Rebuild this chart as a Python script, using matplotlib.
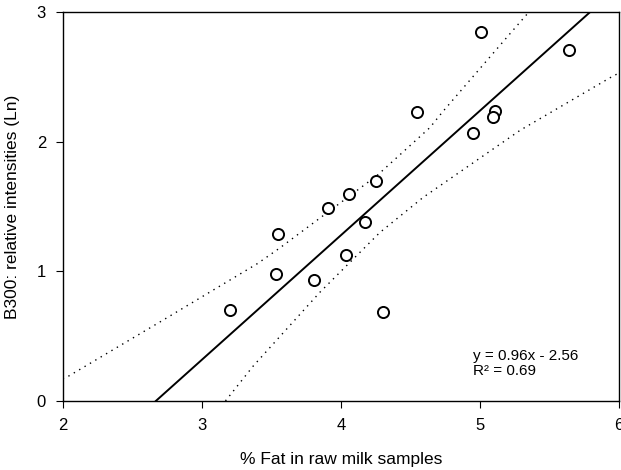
import matplotlib
matplotlib.use("Agg")
import matplotlib.pyplot as plt

plt.rcParams['font.family'] = ['Liberation Sans', 'DejaVu Sans']

# Measured samples: % fat vs B300 relative intensity (Ln)
fat = [3.20, 3.53, 3.55, 3.81, 3.91, 4.04, 4.06, 4.17, 4.25, 4.30,
       4.55, 4.95, 5.01, 5.11, 5.09, 5.64]
b300 = [0.70, 0.98, 1.29, 0.93, 1.49, 1.13, 1.60, 1.38, 1.70, 0.69,
        2.23, 2.07, 2.85, 2.24, 2.19, 2.71]

# Regression line (y = 0.96x - 2.56) endpoints
fit_x = [2.67, 5.79]
fit_y = [0.0, 3.0]

# Confidence band curves
upper_x = [2.00, 2.04, 2.70, 3.40, 3.56, 4.26, 4.64, 4.73, 5.22, 5.35]
upper_y = [0.17, 0.19, 0.61, 1.06, 1.18, 1.74, 2.11, 2.23, 2.84, 3.00]
lower_x = [3.17, 3.37, 3.85, 4.28, 4.59, 5.29, 5.96, 6.00]
lower_y = [0.00, 0.27, 0.84, 1.30, 1.57, 2.09, 2.51, 2.53]

fig = plt.figure(figsize=(6.21, 4.70), dpi=100)
ax = fig.add_axes([0.101, 0.147, 0.896, 0.827])

ax.plot(fit_x, fit_y, color='black', linewidth=1.4)
ax.plot(upper_x, upper_y, color='black', linestyle=(0, (1, 3.5)), linewidth=1.0)
ax.plot(lower_x, lower_y, color='black', linestyle=(0, (1, 3.5)), linewidth=1.0)
ax.plot(fat, b300, linestyle='none', marker='o', markersize=8,
        markerfacecolor='white', markeredgecolor='black', markeredgewidth=1.4)

ax.set_xlim(2, 6)
ax.set_ylim(0, 3)
ax.set_xticks([2, 3, 4, 5, 6])
ax.set_yticks([0, 1, 2, 3])
ax.tick_params(direction='out', length=5, labelsize=12, pad=7,
               top=False, right=False)
for s in ax.spines.values():
    s.set_linewidth(1.0)

ax.set_xlabel('% Fat in raw milk samples', fontsize=12.5, labelpad=14)
ax.set_ylabel('B300: relative intensities (Ln)', fontsize=12.5, labelpad=12)

ax.text(4.95, 0.18, 'y = 0.96x - 2.56\nR² = 0.69', fontsize=11,
        linespacing=1.05, va='bottom', ha='left')

fig.savefig('out.png', dpi=100)
